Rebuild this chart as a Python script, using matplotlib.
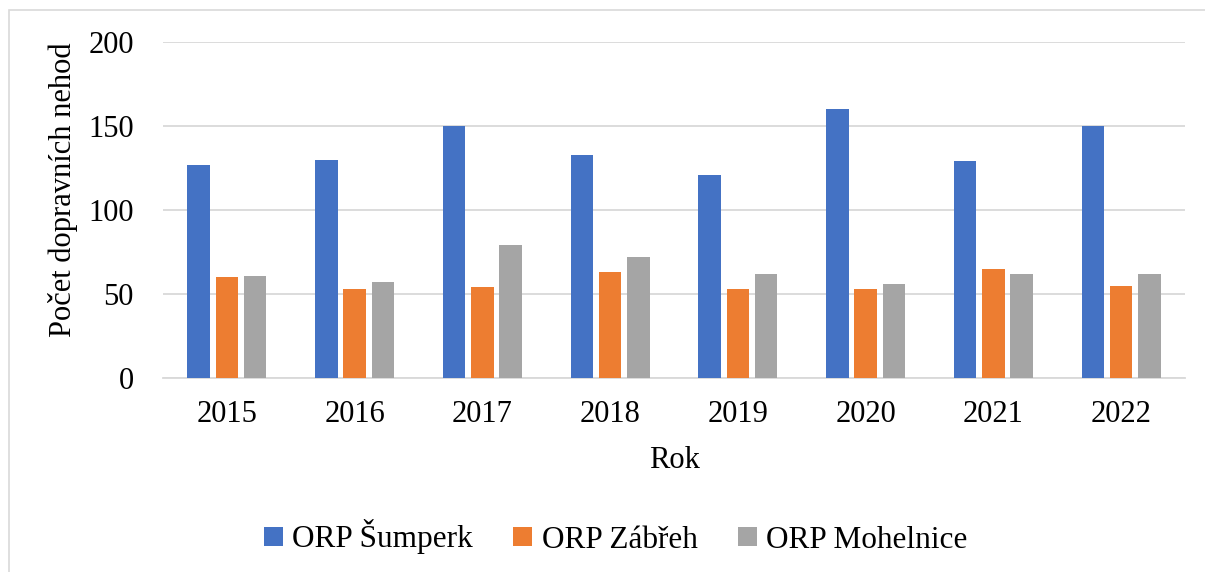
import matplotlib.pyplot as plt
import numpy as np
from matplotlib.patches import Rectangle

plt.rcParams['font.family'] = ['Liberation Serif', 'DejaVu Serif']

years = ['2015', '2016', '2017', '2018', '2019', '2020', '2021', '2022']
sumperk = [127, 130, 150, 133, 121, 160, 129, 150]
zabreh = [60, 53, 54, 63, 53, 53, 65, 55]
mohelnice = [61, 57, 79, 72, 62, 56, 62, 62]

series = [('ORP Šumperk', sumperk, '#4472C4'),
          ('ORP Zábřeh', zabreh, '#ED7D31'),
          ('ORP Mohelnice', mohelnice, '#A5A5A5')]

fig = plt.figure(figsize=(12.05, 5.72), dpi=100)
ax = fig.add_axes([163/1205, 1-378/572, (1185-163)/1205, (378-42)/572])

x = np.arange(len(years))
w = 0.176
step = 0.222
for i, (name, vals, col) in enumerate(series):
    ax.bar(x + (i-1)*step, vals, width=w, color=col, label=name, zorder=3)

ax.set_xlim(-0.5, len(years)-0.5)
ax.set_ylim(0, 200)
ax.set_yticks([0, 50, 100, 150, 200])
ax.yaxis.grid(True, color='#d9d9d9', linewidth=1.3, zorder=0)
ax.set_axisbelow(True)
for s in ['top', 'right', 'left']:
    ax.spines[s].set_visible(False)
ax.spines['bottom'].set_color('#d9d9d9')
ax.spines['bottom'].set_linewidth(1.3)
ax.tick_params(length=0, labelsize=22)
ax.tick_params(axis='y', pad=21)
ax.tick_params(axis='x', pad=16)
ax.set_xticks(x)
ax.set_xticklabels(years)
ax.set_xlabel('Rok', fontsize=22, labelpad=12)
ax.set_ylabel('Počet dopravních nehod', fontsize=22)
ax.yaxis.set_label_coords(-0.083, 0.56)

fig.legend(loc='center', bbox_to_anchor=(0.511, 1-537/572), ncol=3, frameon=False,
           fontsize=22.5, handlelength=0.6, handleheight=0.6, handletextpad=0.3,
           columnspacing=1.3)

fig.patches.append(Rectangle((9/1205, -0.1), 1.2, 1-10/572+0.1, transform=fig.transFigure,
                             fill=False, edgecolor='#d9d9d9', linewidth=1.2))

fig.savefig('out.png', dpi=100)
